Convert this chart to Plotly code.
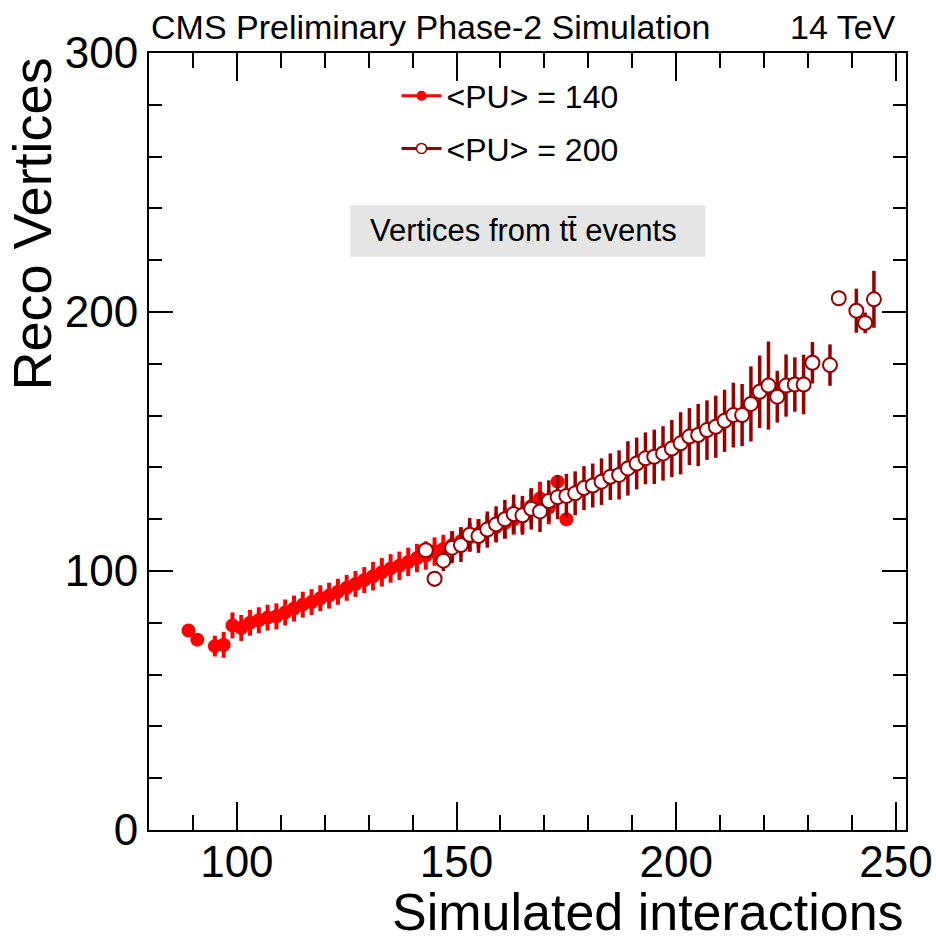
import plotly.graph_objects as go

# ---- data ----
x_pu140 = [89, 91, 95, 97, 99, 101, 103, 105, 107, 109, 111, 113, 115, 117, 119, 121,
           123, 125, 127, 129, 131, 133, 135, 137, 139, 141, 143, 145, 147, 149, 151,
           153, 155, 157, 159, 161, 163, 165, 167, 169, 171, 173, 175]
y_pu140 = [77, 73.5, 71, 71.5, 79, 78, 80, 81, 82, 82.5, 84, 85.5, 87, 88, 89.5, 90.5,
           92, 93.5, 95, 96.5, 98, 99.5, 101, 102, 103.5, 105, 106, 107.5, 108.5, 110, 111.5,
           113, 114.5, 116, 117, 118.5, 120, 121, 125, 128, 124.5, 134.5, 120]
err_pu140 = [0, 0, 4, 5, 5, 5, 5, 5, 5, 5, 5, 5, 5, 5, 5, 5,
             5, 5, 5, 5, 5.5, 5.5, 5.5, 5.5, 5.5, 5.5, 5.5, 5.5, 5.5, 5.5, 5.5,
             5.5, 5.5, 5.5, 5.5, 6, 6, 6, 6.5, 6.5, 6.5, 0, 0]

x_pu200 = [143, 145, 147, 149, 151, 153, 155, 157, 159, 161, 163, 165, 167, 169, 171,
           173, 175, 177, 179, 181, 183, 185, 187, 189, 191, 193, 195, 197, 199, 201,
           203, 205, 207, 209, 211, 213, 215, 217, 219, 221, 223, 225, 227, 229, 231,
           235, 237, 241, 243, 245]
y_pu200 = [108, 97, 104, 109, 110, 114, 113.5, 116, 118, 120, 122, 121.5, 124, 123, 127,
           128.5, 129, 130, 132, 133, 134.5, 136.4, 137.1, 139.6, 141.5, 143.5, 144.1, 145.4, 147.3, 149.3,
           151.9, 152.5, 154.4, 155.7, 158, 160.2, 160.2, 164.5, 169.2, 171.6, 167.3, 171.6, 172, 172, 180.4,
           179.5, 205.3, 200.5, 195.8, 204.9]
err_pu200 = [0, 3, 4, 6, 6.5, 6.5, 6.5, 7, 7, 7.5, 7.5, 7.5, 8, 8, 8,
             8.5, 8.5, 8.5, 8.5, 8.5, 9, 9, 9.5, 10.5, 10, 10, 10.5, 10.5, 11, 12,
             11, 12, 11.5, 12, 12, 12.5, 12, 14.5, 14, 17, 10, 12, 10.5, 11.5, 8,
             8, 0, 8.5, 4, 11]

legend_labels = ["&lt;PU&gt; = 140", "&lt;PU&gt; = 200"]

RED = "#ff0000"
DARK = "#990000"
FONT = "Liberation Sans, Arial, Helvetica, sans-serif"

fig = go.Figure()

fig.add_trace(go.Scatter(
    x=x_pu140, y=y_pu140, mode="markers", showlegend=False,
    marker=dict(symbol="circle", size=14, color=RED, line=dict(width=0)),
    error_y=dict(type="data", array=err_pu140, color=RED, thickness=4, width=0),
))
fig.add_trace(go.Scatter(
    x=x_pu200, y=y_pu200, mode="markers", showlegend=False,
    marker=dict(symbol="circle", size=14, color="white", line=dict(width=2, color=DARK)),
    error_y=dict(type="data", array=err_pu200, color=DARK, thickness=3.5, width=0),
))

# legend entries (ROOT-style line + marker)
fig.add_trace(go.Scatter(
    x=[None], y=[None], mode="lines+markers", name=legend_labels[0], legendgroup="a",
    line=dict(color=RED, width=3),
    marker=dict(symbol="circle", size=10, color=RED),
))
fig.add_trace(go.Scatter(
    x=[None], y=[None], mode="lines+markers", name=legend_labels[1], legendgroup="b",
    line=dict(color=DARK, width=3),
    marker=dict(symbol="circle", size=10, color="white", line=dict(width=1.5, color=DARK)),
))

axis_common = dict(
    showgrid=False, zeroline=False, showline=True, linewidth=2, linecolor="black",
    mirror="allticks", ticks="inside", tickwidth=2, tickcolor="black", automargin=False,
    tickfont=dict(family=FONT, size=44, color="black"),
)

fig.update_xaxes(range=[80, 252.3], dtick=50, tick0=0, ticklen=28, ticklabelstandoff=-8,
                 minor=dict(dtick=10, tick0=0, ticks="inside", ticklen=15, tickwidth=2, tickcolor="black"),
                 **axis_common)
fig.update_yaxes(range=[0, 300], dtick=100, tick0=0, ticklen=24,
                 minor=dict(dtick=20, tick0=0, ticks="inside", ticklen=13, tickwidth=2, tickcolor="black"),
                 **axis_common)

fig.update_layout(
    width=936, height=943,
    margin=dict(l=149, r=30, t=53, b=113),
    paper_bgcolor="white", plot_bgcolor="white",
    font=dict(family=FONT, color="black"),
    legend=dict(x=0.327, y=0.98, xanchor="left", yanchor="top",
                font=dict(family=FONT, size=32, color="black"),
                bgcolor="rgba(0,0,0,0)", tracegroupgap=8, itemwidth=40,
                traceorder="grouped"),
    shapes=[dict(type="rect", xref="paper", yref="paper",
                 x0=0.266, x1=0.735, y0=0.7375, y1=0.804,
                 fillcolor="#e5e5e5", line=dict(width=0), layer="below")],
    annotations=[
        dict(text="CMS Preliminary Phase-2 Simulation", xref="paper", yref="paper",
             x=0.0, y=1.034, xanchor="left", yanchor="middle", showarrow=False,
             font=dict(family=FONT, size=34, color="black")),
        dict(text="14 TeV", xref="paper", yref="paper",
             x=0.99, y=1.034, xanchor="right", yanchor="middle", showarrow=False,
             font=dict(family=FONT, size=34, color="black")),
        dict(text="Reco Vertices", xref="paper", yref="paper", textangle=-90,
             x=-0.155, y=0.997, xanchor="center", yanchor="top", showarrow=False,
             font=dict(family=FONT, size=54, color="black")),
        dict(text="Simulated interactions", xref="paper", yref="paper",
             x=1.0, y=-0.105, xanchor="right", yanchor="middle", showarrow=False,
             font=dict(family=FONT, size=52, color="black")),
        dict(text="Vertices from tt\u0304 events", xref="paper", yref="paper",
             x=0.2895, y=0.771, xanchor="left", yanchor="middle", showarrow=False,
             font=dict(family=FONT, size=31, color="black")),
    ],
)

fig.write_html("out.html")
